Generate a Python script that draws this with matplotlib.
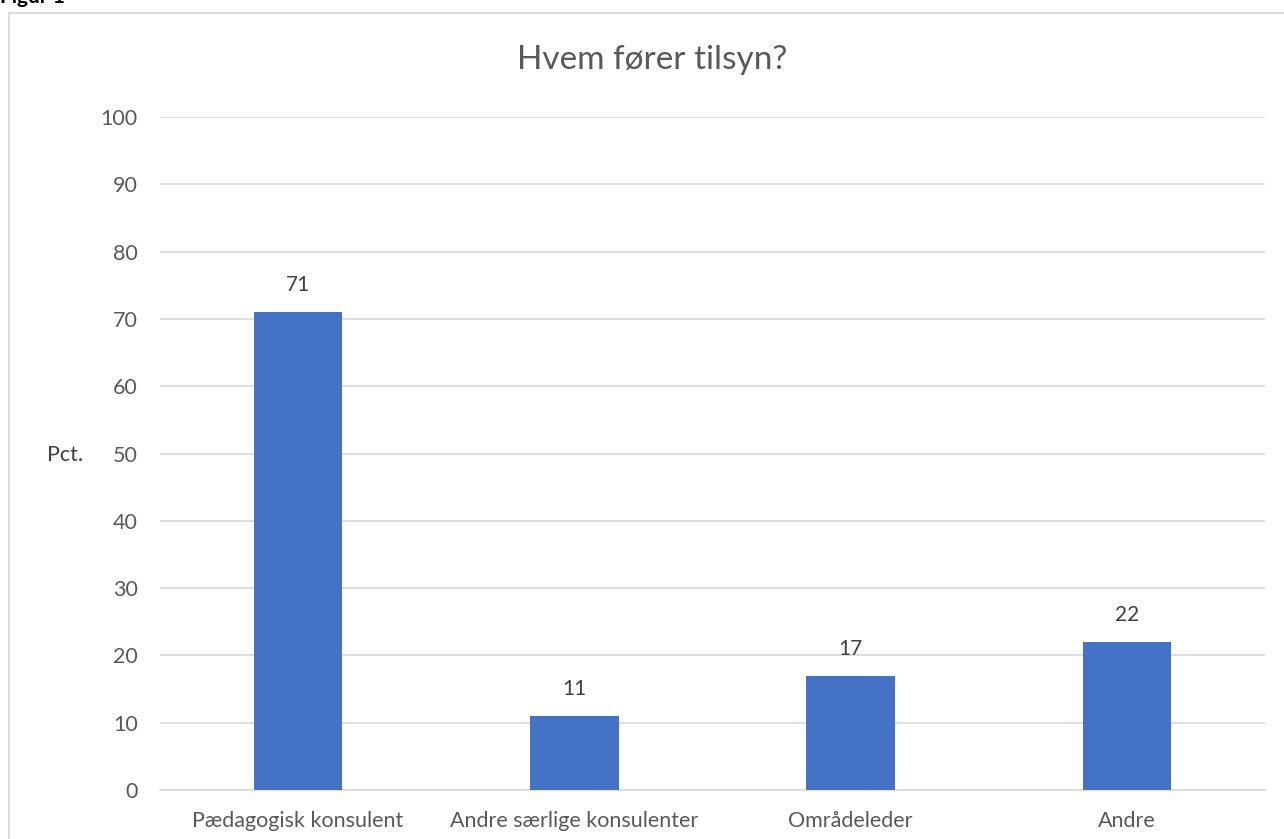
import matplotlib.pyplot as plt
from matplotlib.patches import Rectangle
import numpy as np

plt.rcParams['font.family'] = ['Lato', 'DejaVu Sans']

categories = ['Pædagogisk konsulent', 'Andre særlige konsulenter', 'Områdeleder', 'Andre']
values = [71, 11, 17, 22]
yticks = [0, 10, 20, 30, 40, 50, 60, 70, 80, 90, 100]

W, H = 1284, 839
fig = plt.figure(figsize=(W / 100, H / 100), dpi=100)
ax = fig.add_axes([160 / W, (H - 790) / H, (1265 - 160) / W, (790 - 117) / H])

# outer chart frame
fig.patches.append(Rectangle((9 / W, -0.1), 1.1, (H - 13) / H + 0.1,
                             transform=fig.transFigure, fill=False,
                             edgecolor='#D9D9D9', lw=1.3))

x = np.arange(len(categories))
ax.bar(x, values, width=0.32, color='#4472C4', zorder=3)
for xi, v in zip(x, values):
    ax.text(xi, v + 2.5, str(v), ha='center', va='bottom', fontsize=15, color='#404040')

ax.set_xlim(-0.5, len(categories) - 0.5)
ax.set_ylim(0, 100)
ax.set_yticks(yticks)
ax.set_xticks(x)
ax.set_xticklabels(categories, fontsize=15.5, color='#595959')
ax.tick_params(axis='y', labelsize=15.5, labelcolor='#595959', length=0, pad=16)
ax.tick_params(axis='x', length=0, pad=15)
ax.grid(axis='y', color='#D9D9D9', lw=1.2, zorder=0)
for s in ['top', 'right', 'left']:
    ax.spines[s].set_visible(False)
ax.spines['bottom'].set_color('#D9D9D9')
ax.spines['bottom'].set_linewidth(1.2)

fig.text(47 / W, 1 - 455 / H, 'Pct.', ha='left', va='center', fontsize=15.5, color='#404040')
fig.text(652 / W, 1 - 60 / H, 'Hvem fører tilsyn?', ha='center', va='center',
         fontsize=24, color='#595959')
fig.text(0, 1 - 3 / H, 'Figur 1', ha='left', va='baseline', fontsize=15, fontweight='bold', color='black')

fig.savefig('out.png', dpi=100)
